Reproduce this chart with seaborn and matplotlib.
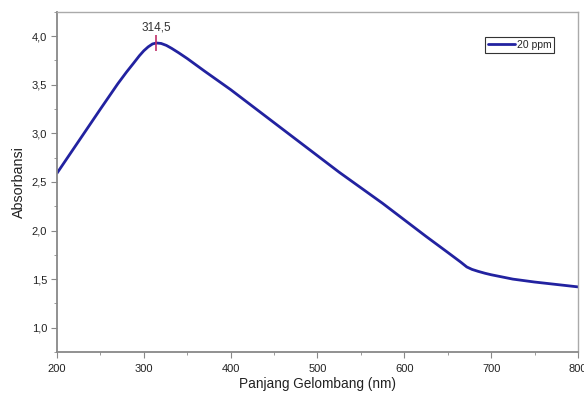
import matplotlib
matplotlib.use("Agg")
import matplotlib.pyplot as plt
import matplotlib.ticker as mticker
import seaborn as sns
import pandas as pd

wavelength = [200, 225, 250, 270, 280, 288, 295, 300, 305, 310, 314.5, 320, 326, 332,
              340, 350, 360, 370, 385, 400, 425, 450, 475, 500, 525, 550, 575, 600,
              625, 650, 665, 672, 678, 685, 693, 700, 725, 750, 775, 800]
absorbance = [2.59, 2.92, 3.25, 3.51, 3.63, 3.72, 3.80, 3.85, 3.89, 3.92, 3.93, 3.925, 3.905, 3.875,
              3.83, 3.77, 3.705, 3.64, 3.545, 3.45, 3.28, 3.11, 2.94, 2.77, 2.60, 2.44, 2.28, 2.11,
              1.94, 1.775, 1.675, 1.625, 1.60, 1.58, 1.56, 1.545, 1.50, 1.47, 1.445, 1.42]
peak_x = 314.5
peak_y = 3.93
peak_label = "314,5"
series_name = "20 ppm"

df = pd.DataFrame({"Panjang Gelombang (nm)": wavelength, "Absorbansi": absorbance})

sns.set_theme(style="white")
plt.rcParams['font.family'] = ['Liberation Sans', 'DejaVu Sans']

fig = plt.figure(figsize=(5.84, 3.95), dpi=100)
ax = fig.add_axes([0.0976, 0.1089, 0.892, 0.861])

sns.lineplot(data=df, x="Panjang Gelombang (nm)", y="Absorbansi", ax=ax,
             color="#2222a0", linewidth=2.0, label=series_name)
ax.lines[0].set_solid_joinstyle("round")

ax.plot([peak_x], [peak_y], marker="|", color="#c0306a", markersize=11, markeredgewidth=1.2)
ax.annotate(peak_label, (peak_x, peak_y), xytext=(0, 7), textcoords="offset points",
            ha="center", va="bottom", fontsize=8.5, color="#333333")

ax.set_xlim(200, 800)
ax.set_ylim(0.75, 4.25)
ax.xaxis.set_major_locator(mticker.MultipleLocator(100))
ax.xaxis.set_minor_locator(mticker.MultipleLocator(50))
ax.yaxis.set_major_locator(mticker.MultipleLocator(0.5))
ax.yaxis.set_minor_locator(mticker.MultipleLocator(0.25))
ax.yaxis.set_major_formatter(mticker.FuncFormatter(lambda v, p: f"{v:.1f}".replace(".", ",")))

for s in ["top", "right"]:
    ax.spines[s].set_color("#aaaaaa")
    ax.spines[s].set_linewidth(1.0)
for s in ["left", "bottom"]:
    ax.spines[s].set_color("#888888")
    ax.spines[s].set_linewidth(1.3)

ax.tick_params(axis="both", which="major", direction="out", length=4, width=0.8,
               color="#888888", labelsize=8, labelcolor="#222222", pad=3,
               bottom=True, left=True, top=False, right=False)
ax.tick_params(axis="x", which="major", pad=4.5)
ax.tick_params(axis="both", which="minor", direction="out", length=2.5, width=0.7,
               color="#999999", bottom=True, left=True, top=False, right=False)

ax.set_xlabel("Panjang Gelombang (nm)", fontsize=9.8, color="#222222", labelpad=2)
ax.set_ylabel("Absorbansi", fontsize=10.3, color="#222222", labelpad=4)

leg = ax.legend(loc="upper right", bbox_to_anchor=(0.955, 0.925), fontsize=7.5,
                frameon=True, fancybox=False, edgecolor="#333333", framealpha=1,
                handlelength=2.6, handletextpad=0.2, borderpad=0.25, borderaxespad=0)
leg.get_frame().set_linewidth(0.8)

fig.savefig("out.png", dpi=100)
